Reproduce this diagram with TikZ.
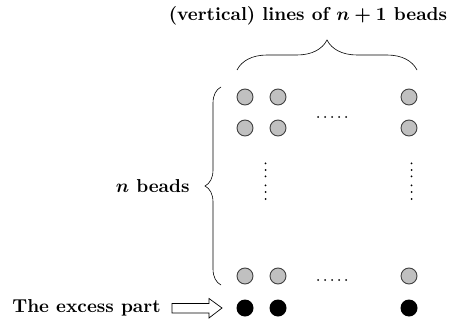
\documentclass[tikz,border=0pt]{standalone}
\usetikzlibrary{decorations.pathreplacing}
\definecolor{beadgray}{RGB}{192,192,192}
\definecolor{beadedge}{RGB}{64,64,64}
\begin{document}
\begin{tikzpicture}[x=1pt,y=-1pt,
  lbl/.style={font=\bfseries\boldmath, scale=1.87, inner sep=0pt},
  gbead/.style={circle, draw=beadedge, fill=beadgray, line width=0.9pt, minimum size=16pt, inner sep=0pt},
  kbead/.style={circle, fill=black, minimum size=17pt, inner sep=0pt},
  dotmark/.style={circle, fill=black, minimum size=2pt, inner sep=0pt},
  bracestyle/.style={decorate, line width=0.6pt}
]
\useasboundingbox (0,0) rectangle (454,323);
% top label and brace
\node[lbl] (top) at (308,16) {(vertical) lines of $n+1$ beads};
\coordinate (tbl) at (237,70);
\coordinate (tbr) at (417,70);
\draw[bracestyle, decoration={brace, amplitude=30pt}] (tbl) -- (tbr);
% left brace and label
\coordinate (lbb) at (221,285);
\coordinate (lbt) at (221,87);
\draw[bracestyle, decoration={brace, amplitude=16pt}] (lbb) -- (lbt);
\node[lbl, anchor=east] (nb) at (190,186) {$n$ beads};
% grey beads
\node[gbead] (a1) at (245,97) {};
\node[gbead] (a2) at (278,97) {};
\node[gbead] (a3) at (409,97) {};
\node[gbead] (b1) at (245,128) {};
\node[gbead] (b2) at (278,128) {};
\node[gbead] (b3) at (409,128) {};
\node[gbead] (c1) at (245,276) {};
\node[gbead] (c2) at (278,276) {};
\node[gbead] (c3) at (409,276) {};
% black beads
\node[kbead] (d1) at (245,308) {};
\node[kbead] (d2) at (278,308) {};
\node[kbead] (d3) at (409,308) {};
% horizontal dots
\foreach \i in {0,...,4} {
  \node[dotmark] (ht\i) at (318+7*\i,117) {};
  \node[dotmark] (hb\i) at (318+7*\i,280) {};
}
% vertical dots
\foreach \yy [count=\k] in {163.3,170,176.3,185.3,192,199} {
  \node[dotmark] (vl\k) at (265.5,\yy) {};
  \node[dotmark] (vr\k) at (411.5,\yy) {};
}
% excess part label and arrow
\node[lbl, anchor=east] (ex) at (161,308) {The excess part};
\coordinate (arrs) at (172,308);
\draw[line width=0.7pt] (arrs) ++(0,-4.5) -- ++(37,0) -- ++(0,-5) -- (222,308) -- (209,318) -- ++(0,-5) -- ++(-37,0) -- cycle;
\end{tikzpicture}
\end{document}
